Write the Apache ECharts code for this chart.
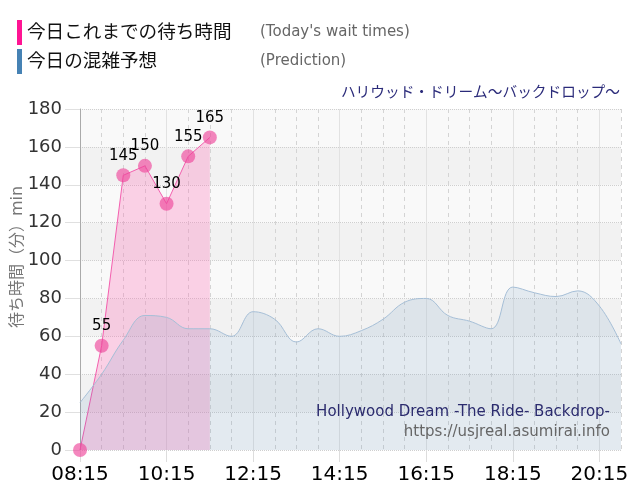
<!DOCTYPE html>
<html>
<head>
<meta charset="utf-8">
<title>ハリウッド・ドリーム～バックドロップ～</title>
<script src="https://cdn.jsdelivr.net/npm/echarts@6/dist/echarts.min.js"></script>
<style>
  html, body {margin: 0; padding: 0; background: #fff;}
  #r-canvas {width: 640px; height: 500px;}
</style>
</head>
<body>
<div id="r-canvas"></div>
<script>
// 時間軸 (30分ごと)
var times = ['08:15', '08:45', '09:15', '09:45', '10:15', '10:45', '11:15', '11:45',
  '12:15', '12:45', '13:15', '13:45', '14:15', '14:45', '15:15', '15:45',
  '16:15', '16:45', '17:15', '17:45', '18:15', '18:45', '19:15', '19:45',
  '20:15', '20:45']

// 今日これまでの待ち時間
var todayWait = [0, 55, 145, 150, 130, 155, 165]

// 今日の混雑予想
var prediction = [25, 40, 58, 71, 70, 64, 64, 60, 73, 69, 57, 64, 60, 63, 69, 78,
  80, 71, 68, 64, 86, 83, 81, 84, 76, 56]

var yTicks = [0, 20, 40, 60, 80, 100, 120, 140, 160, 180]

var FONT = '"DejaVu Sans", "Noto Sans CJK JP", sans-serif'

var myChart = echarts.init(document.getElementById('r-canvas'), null, {renderer: 'canvas'})

var option = {
  animation: false,
  textStyle: {fontFamily: FONT},
  grid: {left: 80, right: 19, top: 109, bottom: 50},
  graphic: [
    // 凡例 - 今日これまで
    {type: 'rect', left: 17, top: 20, shape: {width: 5, height: 25}, style: {fill: '#ff1493'}},
    {type: 'text', left: 27, top: 24, style: {text: '今日これまでの待ち時間', fill: '#111', font: '18.6px ' + FONT}},
    {type: 'text', left: 260, top: 25, style: {text: '(Today\'s wait times)', fill: '#666', font: '15px ' + FONT}},
    // 凡例 - 予想
    {type: 'rect', left: 17, top: 49, shape: {width: 5, height: 25}, style: {fill: '#4682b4'}},
    {type: 'text', left: 27, top: 53, style: {text: '今日の混雑予想', fill: '#111', font: '18.6px ' + FONT}},
    {type: 'text', left: 260, top: 54, style: {text: '(Prediction)', fill: '#666', font: '15px ' + FONT}},
    // アトラクション名
    {type: 'text', right: 20, top: 86, style: {text: 'ハリウッド・ドリーム～バックドロップ～', fill: '#2b2b7a', font: '14.7px ' + FONT}},
    {type: 'text', right: 30, top: 405, z: 100, style: {text: 'Hollywood Dream -The Ride- Backdrop-', fill: '#2b2b6e', font: '15px ' + FONT}},
    {type: 'text', right: 30, top: 425, z: 100, style: {text: 'https://usjreal.asumirai.info', fill: '#666', font: '15px ' + FONT}},
    // 縦軸名
    {type: 'text', x: 18, y: 257, rotation: Math.PI / 2,
      style: {text: '待ち時間（分）min', fill: '#777', font: '16px ' + FONT, textAlign: 'center', textVerticalAlign: 'middle'}}
  ],
  xAxis: [{
    type: 'category',
    data: times,
    boundaryGap: false,
    axisLine: {show: false},
    axisTick: {show: true, interval: 3, length: 12, lineStyle: {color: '#ddd'}},
    axisLabel: {interval: 3, color: '#000', fontSize: 20, margin: 15, fontFamily: FONT},
    splitLine: {show: true, interval: 0, lineStyle: {color: '#d4d4d4', type: [4, 4]}}
  }, {
    // 2時間ごとの実線
    type: 'category',
    data: times,
    boundaryGap: false,
    position: 'bottom',
    axisLine: {show: false},
    axisTick: {show: false},
    axisLabel: {show: false},
    splitLine: {show: true, interval: 3, lineStyle: {color: '#e2e2e2', type: 'solid'}}
  }],
  yAxis: {
    type: 'value',
    min: yTicks[0],
    max: yTicks[yTicks.length - 1],
    interval: 20,
    axisLine: {show: true, lineStyle: {color: '#aaa'}},
    axisTick: {show: true, length: 15, lineStyle: {color: '#e0e0e0'}},
    axisLabel: {color: '#333', fontSize: 18, margin: 18, fontFamily: FONT},
    splitLine: {show: true, lineStyle: {color: '#cfcfcf', type: 'dotted'}},
    splitArea: {show: true, areaStyle: {color: ['#f9f9f9', '#f2f2f2']}}
  },
  series: [{
    // 面と線 (予想の下に描く)
    name: '今日これまでの待ち時間',
    type: 'line',
    data: todayWait,
    symbol: 'none',
    z: 1,
    lineStyle: {color: '#f35fae', width: 1},
    areaStyle: {color: 'rgba(255, 105, 180, 0.4)'}
  }, {
    name: '今日の混雑予想',
    type: 'line',
    data: prediction,
    smooth: 0.4,
    symbol: 'none',
    z: 2,
    lineStyle: {color: '#a6bfd7', width: 1},
    areaStyle: {color: 'rgba(70, 130, 180, 0.17)'}
  }, {
    // 点とラベル (一番上)
    name: '今日これまでの待ち時間',
    type: 'line',
    data: todayWait,
    symbol: 'circle',
    symbolSize: 14,
    showAllSymbol: true,
    z: 3,
    lineStyle: {opacity: 0},
    itemStyle: {color: 'rgba(238, 70, 155, 0.65)'},
    label: {
      show: true, position: 'top', distance: 5, color: '#000', fontSize: 15, fontFamily: FONT,
      formatter: function (p) { return p.value > 0 ? p.value : '' }
    }
  }]
}

myChart.setOption(option)
</script>
</body>
</html>
